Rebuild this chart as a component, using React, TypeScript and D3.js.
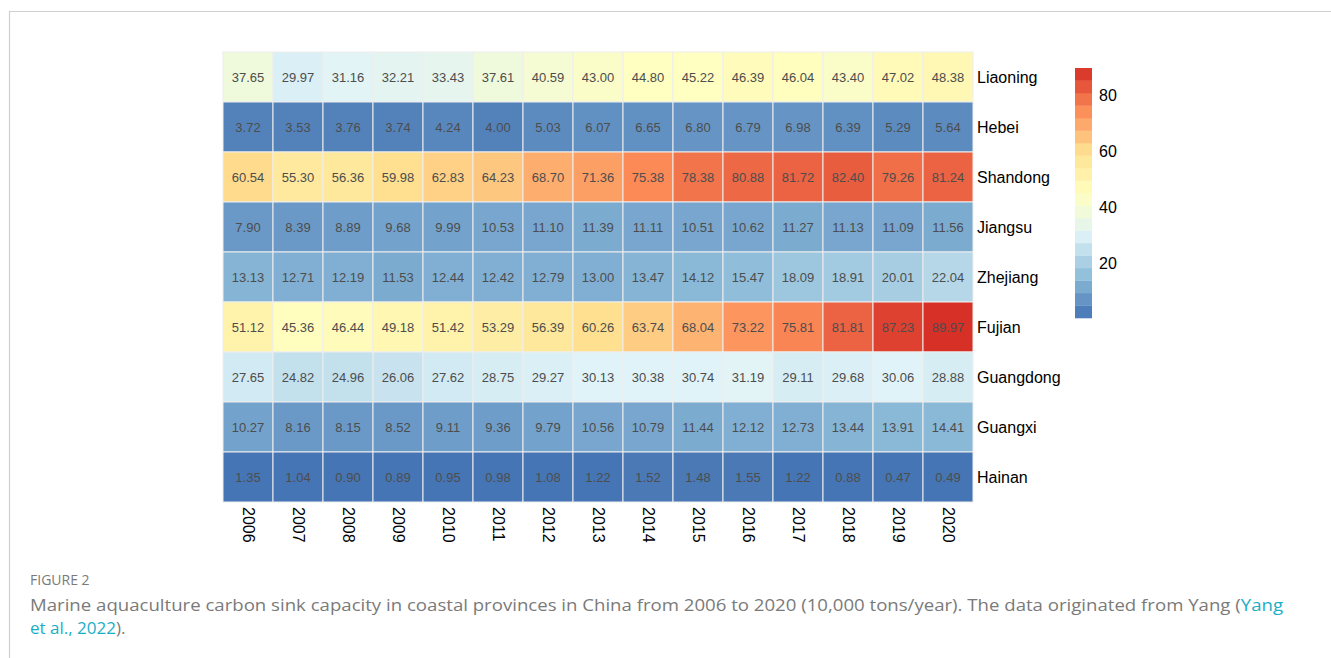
import React from "react";
import * as d3 from "d3";

const years = ["2006","2007","2008","2009","2010","2011","2012","2013","2014","2015","2016","2017","2018","2019","2020"];
const provinces = ["Liaoning","Hebei","Shandong","Jiangsu","Zhejiang","Fujian","Guangdong","Guangxi","Hainan"];

const liaoning = [37.65,29.97,31.16,32.21,33.43,37.61,40.59,43.00,44.80,45.22,46.39,46.04,43.40,47.02,48.38];
const hebei = [3.72,3.53,3.76,3.74,4.24,4.00,5.03,6.07,6.65,6.80,6.79,6.98,6.39,5.29,5.64];
const shandong = [60.54,55.30,56.36,59.98,62.83,64.23,68.70,71.36,75.38,78.38,80.88,81.72,82.40,79.26,81.24];
const jiangsu = [7.90,8.39,8.89,9.68,9.99,10.53,11.10,11.39,11.11,10.51,10.62,11.27,11.13,11.09,11.56];
const zhejiang = [13.13,12.71,12.19,11.53,12.44,12.42,12.79,13.00,13.47,14.12,15.47,18.09,18.91,20.01,22.04];
const fujian = [51.12,45.36,46.44,49.18,51.42,53.29,56.39,60.26,63.74,68.04,73.22,75.81,81.81,87.23,89.97];
const guangdong = [27.65,24.82,24.96,26.06,27.62,28.75,29.27,30.13,30.38,30.74,31.19,29.11,29.68,30.06,28.88];
const guangxi = [10.27,8.16,8.15,8.52,9.11,9.36,9.79,10.56,10.79,11.44,12.12,12.73,13.44,13.91,14.41];
const hainan = [1.35,1.04,0.90,0.89,0.95,0.98,1.08,1.22,1.52,1.48,1.55,1.22,0.88,0.47,0.49];

const seriesValues = [liaoning, hebei, shandong, jiangsu, zhejiang, fujian, guangdong, guangxi, hainan];
const legendTicks = [20, 40, 60, 80];
const paletteStops = ["#4575B4","#91BFDB","#E0F3F8","#FFFFBF","#FEE090","#FC8D59","#D73027"];

export default function App() {
  const W = 1331, H = 658;
  const gridLeft = 223, gridTop = 52, gridRight = 973, gridBottom = 502;
  const x = d3.scaleBand<string>().domain(years).range([gridLeft, gridRight]).padding(0);
  const y = d3.scaleBand<string>().domain(provinces).range([gridTop, gridBottom]).padding(0);

  const all = seriesValues.flat();
  const vmin = d3.min(all) as number;
  const vmax = d3.max(all) as number;
  const interp = d3.interpolateRgbBasis(paletteStops);
  // pheatmap-style: 100 discrete colours across breaks
  const nCol = 100;
  const palette = d3.range(nCol).map(i => {
    // linear rgb ramp like colorRampPalette
    const t = i / (nCol - 1);
    const seg = t * (paletteStops.length - 1);
    const k = Math.min(Math.floor(seg), paletteStops.length - 2);
    return d3.interpolateRgb(paletteStops[k], paletteStops[k + 1])(seg - k);
  });
  void interp;
  const colorOf = (v: number) => {
    let idx = Math.ceil(((v - vmin) / (vmax - vmin)) * nCol) - 1;
    idx = Math.max(0, Math.min(nCol - 1, idx));
    return palette[idx];
  };

  const legTop = 68, legBottom = 318, legX = 1075, legW = 17;
  const ly = d3.scaleLinear().domain([vmin, vmax]).range([legBottom, legTop]);
  const nBins = 20;
  const bins = d3.range(nBins).map(i => {
    const a = vmin + (i / nBins) * (vmax - vmin);
    const b = vmin + ((i + 1) / nBins) * (vmax - vmin);
    return { a, b, c: colorOf((a + b) / 2) };
  });

  const chartFont = "'Liberation Sans', Arial, sans-serif";
  const capFont = "'Open Sans', 'Noto Sans', sans-serif";

  return (
    <svg width={W} height={H} style={{ position: "absolute", left: 0, top: 0, background: "#fff" }}>
      <path d={`M9.5,${H} L9.5,11.5 L${W},11.5`} fill="none" stroke="#cfcfcf" strokeWidth={1.2} />
      {seriesValues.map((row, ri) =>
        row.map((v, ci) => (
          <g key={`${ri}-${ci}`}>
            <rect
              x={x(years[ci])}
              y={y(provinces[ri])}
              width={x.bandwidth()}
              height={y.bandwidth()}
              fill={colorOf(v)}
              stroke="#eeeeee"
              strokeWidth={1}
            />
            <text
              x={(x(years[ci]) as number) + x.bandwidth() / 2}
              y={(y(provinces[ri]) as number) + y.bandwidth() / 2}
              textAnchor="middle"
              dominantBaseline="central"
              fontFamily={chartFont}
              fontSize={13}
              fill="#4D4D4D"
            >
              {v.toFixed(2)}
            </text>
          </g>
        ))
      )}
      {provinces.map(p => (
        <text key={p} x={gridRight + 4} y={(y(p) as number) + y.bandwidth() / 2}
          dominantBaseline="central" fontFamily={chartFont} fontSize={16} fill="#000">{p}</text>
      ))}
      {years.map(yr => {
        const cx = (x(yr) as number) + x.bandwidth() / 2;
        const cy = gridBottom + 5;
        return (
          <text key={yr} transform={`translate(${cx},${cy}) rotate(90)`} x={0} y={0}
            dominantBaseline="central" fontFamily={chartFont} fontSize={16} fill="#000">{yr}</text>
        );
      })}
      {bins.map((b, i) => (
        <rect key={i} x={legX} y={ly(b.b)} width={legW} height={ly(b.a) - ly(b.b) + 0.3} fill={b.c} />
      ))}
      {legendTicks.map(t => (
        <text key={t} x={legX + legW + 7} y={ly(t)} dominantBaseline="central"
          fontFamily={chartFont} fontSize={16} fill="#000">{t}</text>
      ))}
      <text x={30} y={585} fontFamily={capFont} fontSize={14} fill="#7a7a7a">FIGURE 2</text>
      <text x={30} y={611} fontFamily={capFont} fontSize={17} fill="#7a7a7a" textLength={1253} lengthAdjust="spacingAndGlyphs">
        Marine aquaculture carbon sink capacity in coastal provinces in China from 2006 to 2020 (10,000 tons/year). The data originated from Yang (<tspan fill="#1aaec6">Yang</tspan>
      </text>
      <text x={30} y={634} fontFamily={capFont} fontSize={17} fill="#7a7a7a">
        <tspan fill="#1aaec6">et al., 2022</tspan>).
      </text>
    </svg>
  );
}
